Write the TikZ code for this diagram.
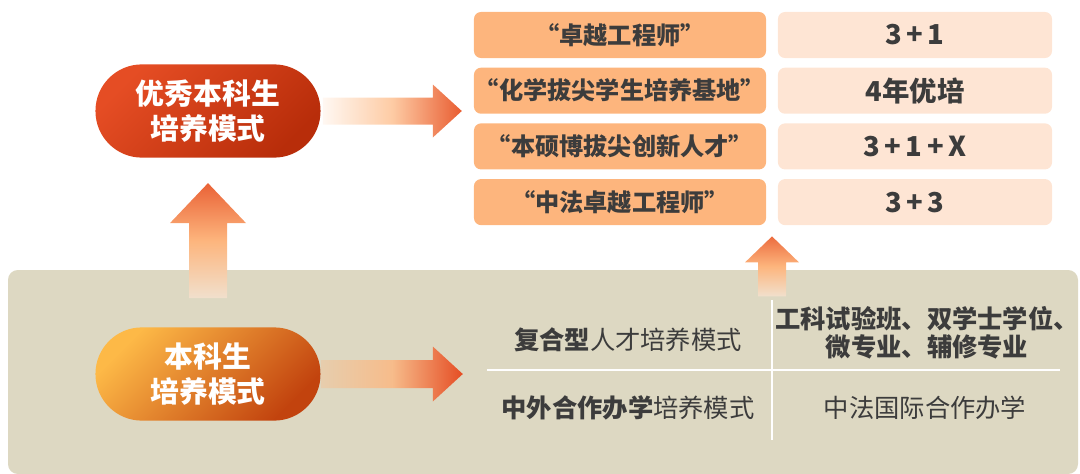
\documentclass[tikz,border=0pt]{standalone}
\usepackage{fontspec}
\setmainfont{Noto Sans CJK SC}
\usetikzlibrary{calc, positioning}
\definecolor{mredA}{HTML}{E54D24}
\definecolor{mredB}{HTML}{B82D0A}
\definecolor{morA}{HTML}{FDB947}
\definecolor{morB}{HTML}{C2430E}
\definecolor{mpanel}{HTML}{DDD8C2}
\definecolor{mbox}{HTML}{FDB57D}
\definecolor{mboxlight}{HTML}{FEE5D4}
\definecolor{mtext}{HTML}{3C3C3C}
\tikzset{
  pill/.style={minimum width=5.625cm, minimum height=2.33cm, rounded corners=1.16cm,
               inner sep=0pt, align=center, text=white,
               font=\fontsize{20.5}{25}\selectfont\bfseries},
  lbox/.style={fill=mbox, rounded corners=5pt, minimum width=7.3cm, minimum height=1.15cm,
               inner sep=0pt, text=mtext, font=\fontsize{17.2}{20}\selectfont\bfseries},
  rbox/.style={fill=mboxlight, rounded corners=5pt, minimum width=6.85cm, minimum height=1.15cm,
               inner sep=0pt, text=mtext, font=\fontsize{19.5}{20}\selectfont\bfseries},
  cell/.style={text=mtext, align=center, inner sep=0pt, font=\fontsize{18}{20}\selectfont},
  gridline/.style={white, line width=1.5pt},
}
\begin{document}
\begin{tikzpicture}[x=0.025cm, y=-0.025cm]
  \useasboundingbox (0,0) rectangle (1080,474);
  % panel
  \fill[mpanel, rounded corners=7pt] (8,270) rectangle (1078,474);

  % the two models
  \node[pill, top color=mredA, bottom color=mredB, shading angle=45] (elite) at (208,111) {优秀本科生\\培养模式};
  \node[pill, top color=morA, bottom color=morB, shading angle=45] (base) at (208,374) {本科生\\培养模式};

  % top table
  \foreach \i/\lab/\val in {1/{“卓越工程师”}/{3\,+\,1}, 2/{“化学拔尖学生培养基地”}/{4年优培},
                            3/{“本硕博拔尖创新人才”}/{3\,+\,1\,+\,X}, 4/{“中法卓越工程师”}/{3\,+\,3}}{
    \node[lbox] (t\i) at (620,{35+55.7*(\i-1)}) {\lab};
    \node[rbox] (v\i) at (915,{35+55.7*(\i-1)}) {\val};
  }

  % bottom grid
  \draw[gridline] (772,300) -- (772,440);
  \draw[gridline] (487,370) -- (1060,370);
  \node[cell] (mix) at (628,340) {\textbf{复合型}人才培养模式};
  \node[cell, font=\fontsize{18}{20}\selectfont\bfseries] (mixv) at (927,333) {工科试验班、双学士学位、\\微专业、辅修专业};
  \node[cell] (coop) at (628,408) {\textbf{中外合作办学}培养模式};
  \node[cell] (coopv) at (925,408) {中法国际合作办学};

  % block arrows
  \begin{scope}[shift={(elite.east)}]
    \shade[left color=white!90!mbox, right color=mredA!85!mbox, middle color=mbox!70!white]
      (2,-13.5) -- (112,-13.5) -- (112,-26.5) -- (141,0) -- (112,26.5) -- (112,13.5) -- (2,13.5) -- cycle;
  \end{scope}
  \begin{scope}[shift={(base.east)}]
    \shade[left color=mpanel!70!mbox, right color=mredA, middle color=mbox!80!mpanel]
      (0,-14) -- (112,-14) -- (112,-27.5) -- (142,0) -- (112,27.5) -- (112,14) -- (0,14) -- cycle;
  \end{scope}
  \begin{scope}[shift={(base.north)}]
    \shade[top color=mredA!80!mbox, bottom color=mpanel!40!mboxlight, middle color=mbox]
      (-19,-29) -- (-19,-104) -- (-38,-104) -- (0,-144) -- (38,-104) -- (19,-104) -- (19,-29) -- cycle;
  \end{scope}
  \coordinate (gap) at ($(t4.south east)!0.5!(v4.south west)$);
  \begin{scope}[shift={(gap)}]
    \shade[top color=mredA!70!mbox, bottom color=mpanel!40!mboxlight, middle color=mbox]
      (-14,71) -- (-14,37) -- (-27,37) -- (0,11) -- (27,37) -- (14,37) -- (14,71) -- cycle;
  \end{scope}
\end{tikzpicture}
\end{document}
